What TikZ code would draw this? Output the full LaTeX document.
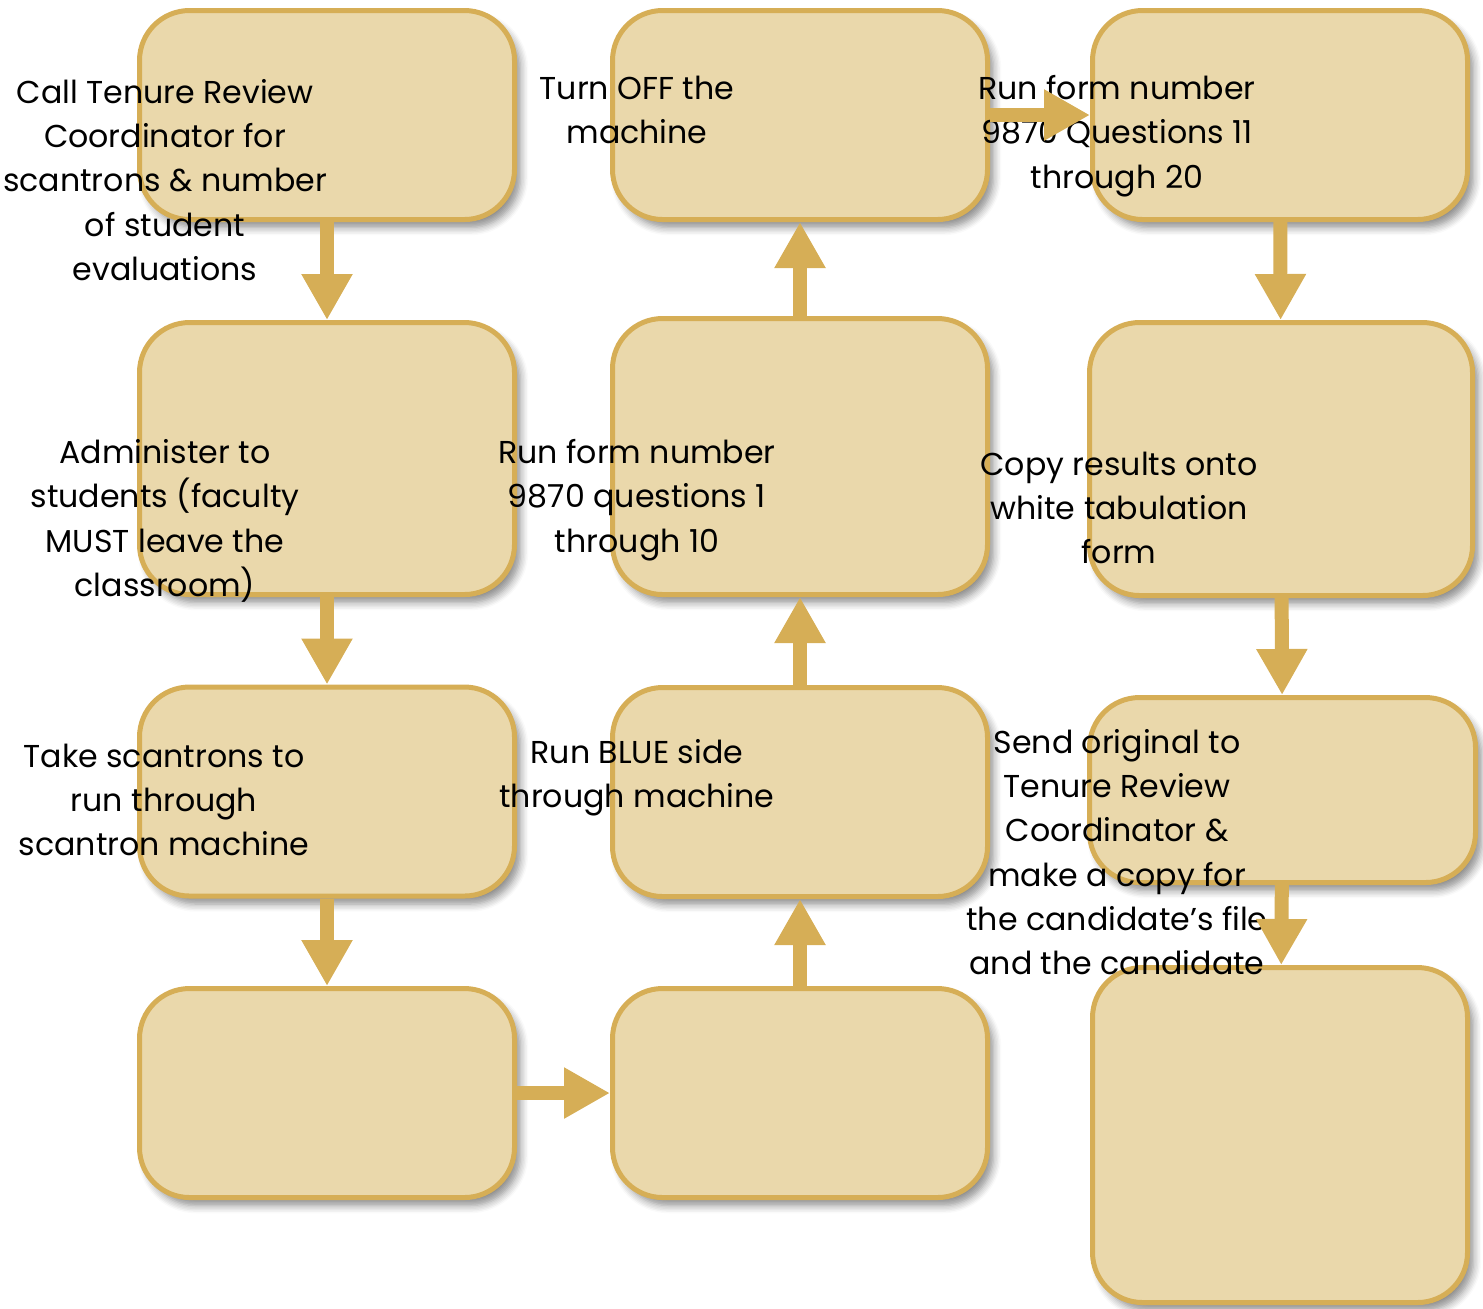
\documentclass[tikz,border=0pt]{standalone}
\usepackage{fontspec}
\setmainfont{Poppins}
\usetikzlibrary{arrows.meta,shadows.blur}
\definecolor{caja}{RGB}{234,216,171}
\definecolor{borde}{RGB}{214,174,86}
\begin{document}
\begin{tikzpicture}[x=0.1mm,y=-0.1mm,
  box/.style={draw=borde,fill=caja,line width=0.5mm,rounded corners=5mm,
    minimum width=37.5mm,minimum height=20.9mm,
    blur shadow={shadow xshift=0.6mm,shadow yshift=-0.8mm,shadow blur steps=6,shadow opacity=45}},
  lbl/.style={align=center,inner sep=0pt,font=\fontsize{9}{12.6}\selectfont},
  flow/.style={draw=borde,line width=1.4mm,-{Triangle[width=4.8mm,length=4.6mm]}}]
  \useasboundingbox (0,0) rectangle (1483,1308);

  % Columna izquierda (hacia abajo)
  \node[box] (b1) at (327,115) {};
  \node[box,minimum height=27.2mm] (b2) at (327,458.5) {};
  \node[box] (b3) at (327,791.5) {};
  \node[box] (b4) at (327,1093) {};

  % Columna central (hacia arriba)
  \node[box] (b5) at (800,1093) {};
  \node[box] (b6) at (800,792) {};
  \node[box,minimum height=27.6mm] (b7) at (800,456.5) {};
  \node[box] (b8) at (800,115) {};

  % Columna derecha (hacia abajo)
  \node[box] (b9) at (1280,115) {};
  \node[box,minimum width=38.3mm,minimum height=27.3mm] (b10) at (1281,459) {};
  \node[box,minimum width=38.6mm,minimum height=18.5mm] (b11) at (1282.5,790) {};
  \node[box,minimum height=33.5mm] (b12) at (1280,1135) {};

  % Textos
  \node[lbl] (t1) at (165,180) {Call Tenure Review\\Coordinator for\\scantrons \& number\\of student\\evaluations};
  \node[lbl] (t2) at (637,110) {Turn OFF the\\machine};
  \node[lbl] (t3) at (1117,136) {Run form number\\9870 Questions 11\\through 20};
  \node[lbl] (t4) at (165,521) {Administer to\\students (faculty\\MUST leave the\\classroom)};
  \node[lbl] (t5) at (637,500) {Run form number\\9870 questions 1\\through 10};
  \node[lbl] (t6) at (1119,508) {Copy results onto\\white tabulation\\form};
  \node[lbl] (t7) at (164,800) {Take scantrons to\\run through\\scantron machine};
  \node[lbl] (t8) at (637,778) {Run BLUE side\\through machine};
  \node[lbl] (t9) at (1117,852) {Send original to\\Tenure Review\\Coordinator \&\\make a copy for\\the candidate’s file\\and the candidate};

  % Flechas
  \foreach \from/\to in {b1/b2, b2/b3, b3/b4, b4/b5, b5/b6, b6/b7, b7/b8, b8/b9, b9/b10, b10/b11, b11/b12}
    \draw[flow] (\from) -- (\to);
\end{tikzpicture}
\end{document}
